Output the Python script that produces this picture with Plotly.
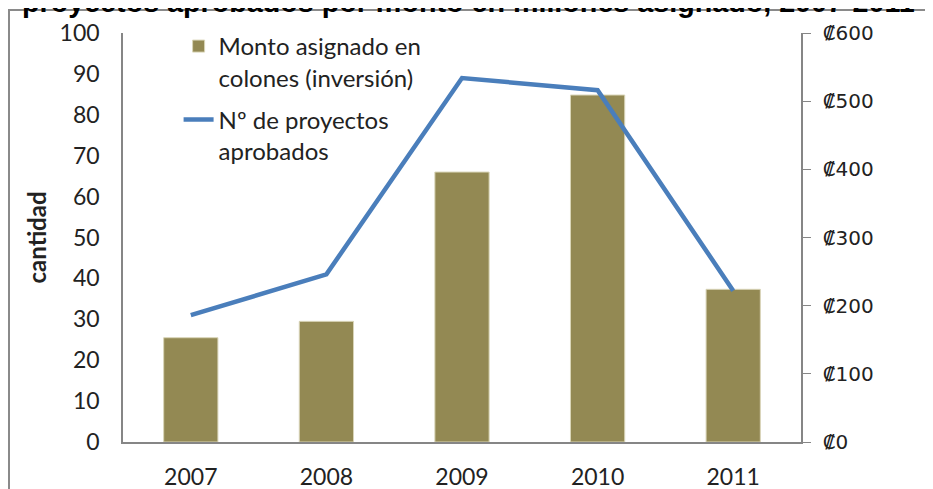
import plotly.graph_objects as go

years = ["2007", "2008", "2009", "2010", "2011"]
monto = [153, 177, 396, 509, 224]          # millones de colones (eje derecho)
proyectos = [31, 41, 89, 86, 37]           # cantidad (eje izquierdo)

title_text = "proyectos aprobados por monto en millones asignado, 2007-2011"
money_ticks = [0, 100, 200, 300, 400, 500, 600]
money_labels = ["₡" + str(v) for v in money_ticks]

fig = go.Figure()
fig.add_trace(go.Bar(
    x=years, y=monto, name="Monto asignado en<br>colones (inversión)",
    marker=dict(color="#938953", line=dict(color="#d9d5b8", width=1)),
    width=0.4, yaxis="y", legendgroup="a",
))
fig.add_trace(go.Scatter(
    x=years, y=proyectos, name="Nº de proyectos<br>aprobados",
    mode="lines", line=dict(color="#4a7ebb", width=4.5),
    yaxis="y2", legendgroup="b",
))

axis_col = "#868686"
L, T, R, B = 115, 25, 140, 55
PW, PH = 933 - L - R, 489 - T - B

fig.update_layout(
    width=933, height=489,
    margin=dict(l=L, r=R, t=T, b=B, autoexpand=False),
    paper_bgcolor="white", plot_bgcolor="white",
    font=dict(family="Lato", size=23, color="#222222"),
    showlegend=True,
    legend=dict(x=0.082, y=1.022, xanchor="left", yanchor="top",
                bgcolor="rgba(0,0,0,0)", font=dict(size=24, family="Lato"),
                valign="top", traceorder="grouped", tracegroupgap=8),
    xaxis=dict(showline=True, linecolor=axis_col, linewidth=1.5, ticks="",
               showgrid=False, ticklabelstandoff=14, automargin=False,
               tickfont=dict(size=23, family="Lato")),
    yaxis=dict(side="right", range=[0, 600], tickvals=money_ticks, ticktext=money_labels,
               showline=True, linecolor=axis_col, linewidth=1.5, ticks="outside",
               ticklen=8, tickcolor=axis_col, showgrid=False, zeroline=False,
               ticklabelstandoff=8, automargin=False,
               tickfont=dict(size=20, family="DejaVu Sans")),
    yaxis2=dict(side="left", overlaying="y", range=[0, 100], dtick=10,
                showline=True, linecolor=axis_col, linewidth=1.5, ticks="",
                showgrid=False, zeroline=False, ticklabelstandoff=17, automargin=False,
                tickfont=dict(size=23, family="Lato"),
                title=dict(text="<b>cantidad</b>", font=dict(size=24, family="Lato"), standoff=6)),
    bargap=0.6,
)

fig.add_annotation(
    text="<b>" + title_text + "</b>", xref="paper", yref="paper",
    x=(460 - L) / PW, y=1 + (T + 6.5) / PH, xanchor="center", yanchor="middle",
    showarrow=False, font=dict(family="Liberation Sans", size=28.7, color="black"),
)
fig.add_shape(type="rect", xref="paper", yref="paper",
              x0=(1 - L) / PW, x1=2, y0=-1, y1=1 + (T - 2) / PH,
              line=dict(color="#8a8a8a", width=2), layer="below")

fig.write_html("out.html")
